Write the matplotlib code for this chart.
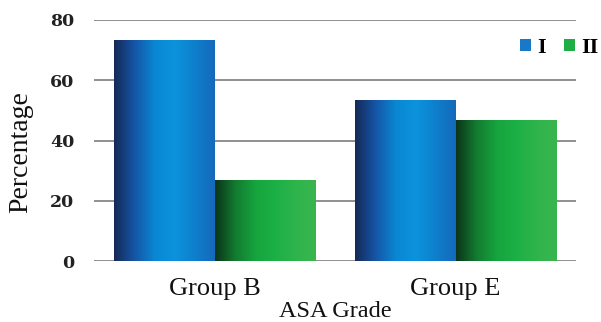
import numpy as np
import matplotlib
matplotlib.use("Agg")
import matplotlib.pyplot as plt
from matplotlib.colors import LinearSegmentedColormap
from matplotlib.patches import Patch

categories = ["Group B", "Group E"]
series_names = ["I", "II"]
grade_I = [73.3, 53.3]
grade_II = [26.7, 46.7]
yticks = [0, 20, 40, 60, 80]

plt.rcParams["font.family"] = ["Liberation Serif", "DejaVu Serif"]

W, H = 601, 322
fig = plt.figure(figsize=(W / 100, H / 100), dpi=100)
ax = fig.add_axes([94 / W, 1 - 261 / H, 482 / W, 241 / H])

blue_cmap = LinearSegmentedColormap.from_list(
    "blue_grad", ["#152a55", "#1654a6", "#0a86d2", "#0c93dc", "#0e7fcc", "#1669bb"])
green_cmap = LinearSegmentedColormap.from_list(
    "green_grad", ["#0b3519", "#137a30", "#16a43e", "#1cb046", "#2fb44c", "#3ab54e"])

x = np.arange(len(categories))
width = 0.415
bars_I = ax.bar(x - width / 2, grade_I, width, color="none", label=series_names[0])
bars_II = ax.bar(x + width / 2, grade_II, width, color="none", label=series_names[1])

# horizontal shading inside each bar
grad = np.linspace(0, 1, 256).reshape(1, -1)
for bars, cmap in ((bars_I, blue_cmap), (bars_II, green_cmap)):
    for b in bars:
        x0, y0 = b.get_x(), b.get_y()
        ax.imshow(grad, cmap=cmap, aspect="auto", zorder=3,
                  extent=(x0, x0 + b.get_width(), y0, y0 + b.get_height()))

ax.set_xlim(-0.5, 1.5)
ax.set_ylim(0, 80)
ax.set_yticks(yticks)
ax.grid(axis="y", color="#8f8f8f", linewidth=1.4, zorder=0)
ax.set_axisbelow(True)
for s in ax.spines.values():
    s.set_visible(False)
ax.tick_params(axis="both", length=0)
ax.tick_params(axis="y", pad=14)
ax.tick_params(axis="x", pad=12)
ax.set_xticks(x)
ax.set_xticklabels(categories, fontsize=19, color="#111111")
for lbl in ax.get_yticklabels():
    lbl.set_fontsize(12.5)
    lbl.set_fontweight("bold")
    lbl.set_family("DejaVu Serif")
    lbl.set_color("#222222")

ax.set_ylabel("Percentage", fontsize=20, color="#111111")
ax.yaxis.set_label_coords((33 - 94) / 482, 0.45)
ax.set_xlabel("ASA Grade", fontsize=17.5, labelpad=1, color="#111111")

handles = [Patch(facecolor="#1a78c8"), Patch(facecolor="#1fad45")]
leg = fig.legend(handles, series_names, loc="center right",
                 bbox_to_anchor=(599 / W, 1 - 48 / H), bbox_transform=fig.transFigure,
                 ncol=2, frameon=False, handlelength=0.5, handleheight=0.5,
                 handletextpad=0.3, columnspacing=0.8, borderpad=0, borderaxespad=0,
                 prop={"family": "Liberation Serif", "weight": "bold", "size": 16})

fig.savefig("out.png", dpi=100)
